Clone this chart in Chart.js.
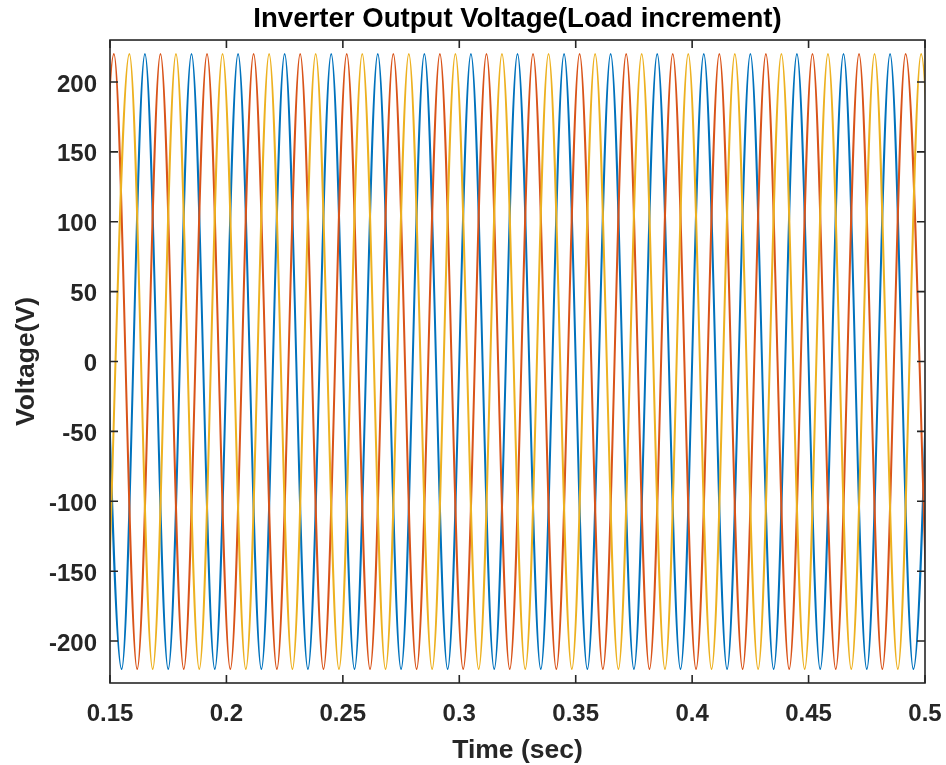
<!DOCTYPE html>
<html>
<head>
<meta charset="utf-8">
<title>Inverter Output Voltage</title>
<script src="https://cdn.jsdelivr.net/npm/chart.js@4.4.1/dist/chart.umd.min.js"></script>
<style>
  html, body { margin: 0; padding: 0; background: #ffffff; }
  #wrap { width: 946px; height: 765px; }
</style>
</head>
<body>
<div id="wrap"><canvas id="chart" width="946" height="765"></canvas></div>
<script>
// Axis ticks
const xTickValues = [0.15, 0.2, 0.25, 0.3, 0.35, 0.4, 0.45, 0.5];
const xTickLabels = ['0.15', '0.2', '0.25', '0.3', '0.35', '0.4', '0.45', '0.5'];
const yTickValues = [-200, -150, -100, -50, 0, 50, 100, 150, 200];
const yTickLabels = ['-200', '-150', '-100', '-50', '0', '50', '100', '150', '200'];

// Phase A: peak / trough instants (s) and voltages (V)
const phaseATimes = [0.145, 0.155, 0.165, 0.175, 0.185, 0.195, 0.205, 0.215, 0.225, 0.235,
  0.245, 0.255, 0.265, 0.275, 0.285, 0.295, 0.305, 0.315, 0.325, 0.335,
  0.345, 0.355, 0.365, 0.375, 0.385, 0.395, 0.405, 0.415, 0.425, 0.435,
  0.445, 0.455, 0.465, 0.475, 0.485, 0.495, 0.505];
const phaseAVolts = [220, -220, 220, -220, 220, -220, 220, -220, 220, -220,
  220, -220, 220, -220, 220, -220, 220, -220, 220, -220,
  220, -220, 220, -220, 220, -220, 220, -220, 220, -220,
  220, -220, 220, -220, 220, -220, 220];

// Phase B
const phaseBTimes = [0.14167, 0.15167, 0.16167, 0.17167, 0.18167, 0.19167, 0.20167, 0.21167, 0.22167, 0.23167,
  0.24167, 0.25167, 0.26167, 0.27167, 0.28167, 0.29167, 0.30167, 0.31167, 0.32167, 0.33167,
  0.34167, 0.35167, 0.36167, 0.37167, 0.38167, 0.39167, 0.40167, 0.41167, 0.42167, 0.43167,
  0.44167, 0.45167, 0.46167, 0.47167, 0.48167, 0.49167, 0.50167];
const phaseBVolts = [-220, 220, -220, 220, -220, 220, -220, 220, -220, 220,
  -220, 220, -220, 220, -220, 220, -220, 220, -220, 220,
  -220, 220, -220, 220, -220, 220, -220, 220, -220, 220,
  -220, 220, -220, 220, -220, 220, -220];

// Phase C
const phaseCTimes = [0.14833, 0.15833, 0.16833, 0.17833, 0.18833, 0.19833, 0.20833, 0.21833, 0.22833, 0.23833,
  0.24833, 0.25833, 0.26833, 0.27833, 0.28833, 0.29833, 0.30833, 0.31833, 0.32833, 0.33833,
  0.34833, 0.35833, 0.36833, 0.37833, 0.38833, 0.39833, 0.40833, 0.41833, 0.42833, 0.43833,
  0.44833, 0.45833, 0.46833, 0.47833, 0.48833, 0.49833, 0.50833];
const phaseCVolts = [-220, 220, -220, 220, -220, 220, -220, 220, -220, 220,
  -220, 220, -220, 220, -220, 220, -220, 220, -220, 220,
  -220, 220, -220, 220, -220, 220, -220, 220, -220, 220,
  -220, 220, -220, 220, -220, 220, -220];

const FONT = "'Liberation Sans', Arial, Helvetica, sans-serif";
const INK = '#262626';

function toPoints(times, volts) {
  return times.map((t, i) => ({ x: t, y: volts[i] }));
}

function phase(label, times, volts, color, order) {
  return {
    label: label,
    data: toPoints(times, volts),
    borderColor: color,
    backgroundColor: color,
    borderWidth: 2,
    pointRadius: 0,
    pointHoverRadius: 0,
    cubicInterpolationMode: 'monotone',
    fill: false,
    clip: 0,
    order: order
  };
}

// Boxed axes with inward tick marks on all four sides
const boxFrame = {
  id: 'boxFrame',
  afterDatasetsDraw(chart) {
    const { ctx, chartArea, scales } = chart;
    const { left, top, right, bottom } = chartArea;
    const L = 8;
    ctx.save();
    ctx.strokeStyle = INK;
    ctx.lineWidth = 1.6;
    ctx.beginPath();
    scales.x.ticks.forEach(t => {
      const px = scales.x.getPixelForValue(t.value);
      ctx.moveTo(px, bottom); ctx.lineTo(px, bottom - L);
      ctx.moveTo(px, top); ctx.lineTo(px, top + L);
    });
    scales.y.ticks.forEach(t => {
      const py = scales.y.getPixelForValue(t.value);
      ctx.moveTo(left, py); ctx.lineTo(left + L, py);
      ctx.moveTo(right, py); ctx.lineTo(right - L, py);
    });
    ctx.stroke();
    ctx.strokeRect(left, top, right - left, bottom - top);
    ctx.restore();
  }
};

const whiteBg = {
  id: 'whiteBg',
  beforeDraw(chart) {
    const ctx = chart.ctx;
    ctx.save();
    ctx.fillStyle = '#ffffff';
    ctx.fillRect(0, 0, chart.width, chart.height);
    ctx.restore();
  }
};

new Chart(document.getElementById('chart'), {
  type: 'line',
  data: {
    datasets: [
      phase('Phase A', phaseATimes, phaseAVolts, '#0072BD', 2),
      phase('Phase B', phaseBTimes, phaseBVolts, '#D95319', 1),
      phase('Phase C', phaseCTimes, phaseCVolts, '#EDB120', 0)
    ]
  },
  options: {
    responsive: false,
    animation: false,
    devicePixelRatio: 1,
    layout: { padding: { left: 0, right: 21, top: 0, bottom: 0 } },
    plugins: {
      legend: { display: false },
      tooltip: { enabled: false },
      title: {
        display: true,
        fullSize: false,
        text: 'Inverter Output Voltage(Load increment)',
        color: '#000000',
        font: { family: FONT, size: 27.6, weight: 'bold', lineHeight: 1.2 },
        padding: { top: 2.5, bottom: 4.4 }
      }
    },
    scales: {
      x: {
        type: 'linear',
        min: 0.15,
        max: 0.5,
        afterBuildTicks: s => { s.ticks = xTickValues.map(v => ({ value: v })); },
        afterFit: s => { s.height = 82; s.paddingLeft = 0; s.paddingRight = 0; },
        grid: { display: false, drawTicks: false },
        border: { display: false },
        ticks: {
          autoSkip: false,
          maxRotation: 0,
          padding: 17,
          color: INK,
          font: { family: FONT, size: 24, weight: 'bold', lineHeight: 1.2 },
          callback: (v, i) => xTickLabels[i]
        },
        title: {
          display: true,
          text: 'Time (sec)',
          color: INK,
          padding: 0,
          font: { family: FONT, size: 26.5, weight: 'bold', lineHeight: 1.1 }
        }
      },
      y: {
        type: 'linear',
        min: -230,
        max: 230,
        afterBuildTicks: s => { s.ticks = yTickValues.map(v => ({ value: v })); },
        afterFit: s => { s.width = 110; s.paddingTop = 0; s.paddingBottom = 0; },
        grid: { display: false, drawTicks: false },
        border: { display: false },
        ticks: {
          autoSkip: false,
          padding: 13,
          labelOffset: 3,
          color: INK,
          font: { family: FONT, size: 24, weight: 'bold', lineHeight: 1.2 },
          callback: (v, i) => yTickLabels[i]
        },
        title: {
          display: true,
          text: 'Voltage(V)',
          color: INK,
          padding: { top: 10.5, bottom: 0 },
          font: { family: FONT, size: 26.5, weight: 'bold', lineHeight: 1.2 }
        }
      }
    }
  },
  plugins: [whiteBg, boxFrame]
});
</script>
</body>
</html>
